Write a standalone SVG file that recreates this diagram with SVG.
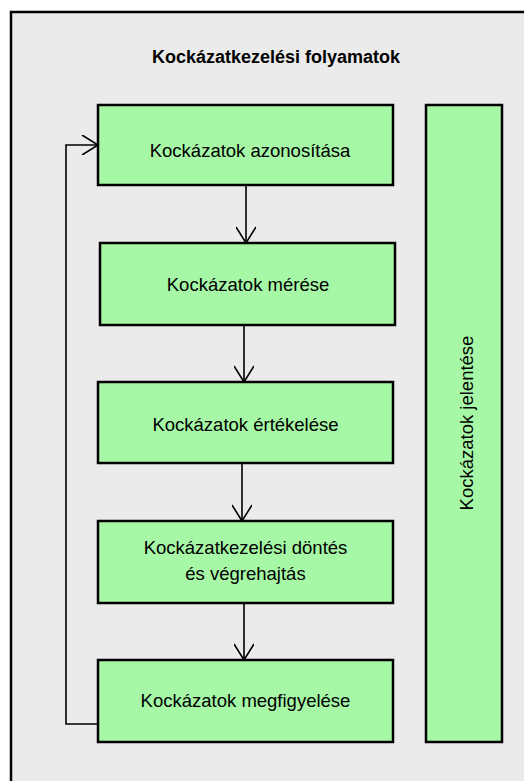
<svg xmlns="http://www.w3.org/2000/svg" width="524" height="781" viewBox="0 0 524 781">
<defs>
<style>
.box{fill:#a6f8a6;stroke:#000;stroke-width:2.5}
.t{font-family:"Liberation Sans",Arial,sans-serif;font-size:18.5px;fill:#000;text-anchor:middle}
.title{font-family:"Liberation Sans",Arial,sans-serif;font-size:18px;font-weight:bold;fill:#000;text-anchor:middle}
.c{fill:none;stroke:#000;stroke-width:1.6}
</style>
<marker id="ah" viewBox="0 0 20 20" refX="18" refY="10" markerWidth="20" markerHeight="20" markerUnits="userSpaceOnUse" orient="auto">
<path d="M2,0 L18,10 L2,20" fill="none" stroke="#000" stroke-width="1.6"/>
</marker>
</defs>
<rect x="0" y="0" width="524" height="781" fill="#fff"/>
<g id="frame">
<rect x="11" y="12" width="530" height="790" fill="#ebebeb" stroke="#000" stroke-width="2.5"/>
<text class="title" x="276" y="63">Kockázatkezelési folyamatok</text>
</g>
<g id="connectors">
<line class="c" x1="246" y1="185" x2="246" y2="243" marker-end="url(#ah)"/>
<line class="c" x1="244" y1="325" x2="244" y2="382" marker-end="url(#ah)"/>
<line class="c" x1="242" y1="463" x2="242" y2="521" marker-end="url(#ah)"/>
<line class="c" x1="244" y1="603" x2="244" y2="660" marker-end="url(#ah)"/>
<polyline class="c" points="98,724 66,724 66,145 98,145" marker-end="url(#ah)"/>
</g>
<g id="n1">
<rect class="box" x="98" y="105" width="295" height="80"/>
<text class="t" x="250" y="157">Kockázatok azonosítása</text>
</g>
<g id="n2">
<rect class="box" x="100" y="243" width="295" height="82"/>
<text class="t" x="248" y="291">Kockázatok mérése</text>
</g>
<g id="n3">
<rect class="box" x="98" y="382" width="295" height="81"/>
<text class="t" x="245.5" y="431">Kockázatok értékelése</text>
</g>
<g id="n4">
<rect class="box" x="98" y="521" width="295" height="82"/>
<text class="t" x="245.5" y="554">Kockázatkezelési döntés</text>
<text class="t" x="245.5" y="580">és végrehajtás</text>
</g>
<g id="n5">
<rect class="box" x="98" y="660" width="295" height="82"/>
<text class="t" x="245.5" y="707">Kockázatok megfigyelése</text>
</g>
<g id="n6">
<rect class="box" x="426" y="105" width="76" height="637"/>
<text class="t" transform="translate(473,423) rotate(-90)" x="0" y="0">Kockázatok jelentése</text>
</g>
</svg>
